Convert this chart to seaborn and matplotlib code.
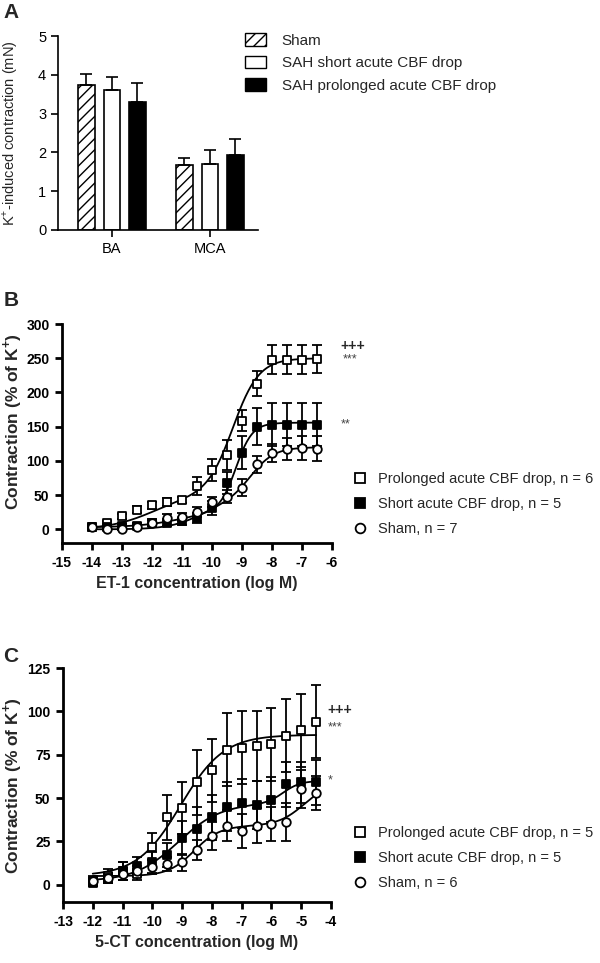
import numpy as np
import pandas as pd
import matplotlib
matplotlib.use("Agg")
import matplotlib.pyplot as plt
import seaborn as sns
from matplotlib.lines import Line2D
from matplotlib.patches import Patch
from matplotlib import font_manager

# ---- panel A: K+ induced contraction (mN)
vessels = ["BA", "MCA"]
groups_a = ["Sham", "SAH short acute CBF drop", "SAH prolonged acute CBF drop"]
sham_k = [3.75, 1.67]
short_k = [3.62, 1.70]
prolonged_k = [3.30, 1.93]
sham_k_sem = [0.28, 0.18]
short_k_sem = [0.32, 0.37]
prolonged_k_sem = [0.50, 0.42]

# ---- panel B: ET-1 concentration response (% of K+)
et1_conc = [-14, -13.5, -13, -12.5, -12, -11.5, -11, -10.5, -10, -9.5, -9, -8.5, -8, -7.5, -7, -6.5]
et1_prolonged = [3, 9, 19, 29, 35, 40, 43, 63, 87, 108, 159, 213, 248, 248, 248, 249]
et1_prolonged_sem = [3, 3, 4, 5, 5, 6, 5, 13, 16, 22, 16, 18, 21, 21, 21, 21]
et1_short = [3, 3, 5, 5, 10, 10, 12, 17, 31, 68, 112, 150, 153, 153, 153, 153]
et1_short_sem = [3, 3, 3, 4, 5, 5, 5, 7, 10, 16, 24, 27, 31, 31, 31, 31]
et1_sham = [3, 1, 1, 3, 10, 17, 18, 25, 40, 48, 61, 95, 112, 118, 119, 118]
et1_sham_sem = [3, 2, 2, 3, 4, 5, 6, 7, 8, 10, 12, 12, 13, 16, 18, 18]
# fitted curve parameters: bottom, span1, logEC50_1, hill1, span2, logEC50_2, hill2
et1_prolonged_fit = [0, 50, -12.0, 0.6, 200, -9.3, 1.0]
et1_short_fit = [3, 25, -11.0, 0.6, 128, -9.2, 1.6]
et1_sham_fit = [0, 40, -10.4, 0.8, 80, -8.7, 1.1]

# ---- panel C: 5-CT concentration response (% of K+)
ct_conc = [-12, -11.5, -11, -10.5, -10, -9.5, -9, -8.5, -8, -7.5, -7, -6.5, -6, -5.5, -5, -4.5]
ct_prolonged = [2, 5, 8, 6, 22, 39, 44, 59, 66, 78, 79, 80, 81, 86, 89, 94]
ct_prolonged_sem = [3, 4, 5, 3, 8, 13, 15, 19, 18, 21, 21, 20, 21, 21, 21, 21]
ct_short = [1, 4, 8, 11, 13, 17, 27, 32, 39, 45, 47, 46, 49, 58, 59, 59]
ct_short_sem = [2, 3, 5, 5, 6, 7, 10, 13, 13, 14, 14, 14, 13, 13, 12, 13]
ct_sham = [2, 4, 6, 8, 10, 12, 13, 20, 28, 34, 31, 34, 35, 36, 55, 53]
ct_sham_sem = [2, 2, 3, 3, 4, 4, 5, 6, 8, 9, 10, 10, 10, 11, 11, 10]
ct_prolonged_fit = [5, 81.5, -9.05, 0.6, 0, -5.0, 1.0]
ct_short_fit = [2, 45, -9.14, 0.6, 13, -5.6, 1.5]
ct_sham_fit = [5, 29, -8.6, 1.0, 25, -4.9, 1.0]

et1_labels = ["Prolonged acute CBF drop, n = 6", "Short acute CBF drop, n = 5", "Sham, n = 7"]
ct_labels = ["Prolonged acute CBF drop, n = 5", "Short acute CBF drop, n = 5", "Sham, n = 6"]

sns.set_theme(style="ticks")
plt.rcParams["font.family"] = ["Liberation Sans", "DejaVu Sans"]
plt.rcParams["mathtext.fontset"] = "custom"
plt.rcParams["mathtext.rm"] = "Liberation Sans"
plt.rcParams["mathtext.bf"] = "Liberation Sans:bold"
plt.rcParams["hatch.linewidth"] = 1.0

installed = {f.name for f in font_manager.fontManager.ttflist}
narrow = "Liberation Sans Narrow" if "Liberation Sans Narrow" in installed else "Liberation Sans"
tick_font = {"family": narrow, "weight": "bold", "size": 12 if narrow != "Liberation Sans" else 10}
xlab_font = {"family": narrow, "weight": "bold", "size": 13 if narrow != "Liberation Sans" else 11.5}


def hill2(x, p):
    b, s1, e1, h1, s2, e2, h2 = p
    return b + s1 / (1 + 10 ** ((e1 - x) * h1)) + s2 / (1 + 10 ** ((e2 - x) * h2))


fig = plt.figure(figsize=(6, 9.63), dpi=100)

# ================= A
axA = fig.add_axes([0.0967, 0.7612, 0.3333, 0.2014])
df_a = pd.DataFrame({
    "vessel": vessels * 3,
    "group": [g for g in groups_a for _ in vessels],
    "value": sham_k + short_k + prolonged_k,
})
sns.barplot(data=df_a, x="vessel", y="value", hue="group", order=vessels, hue_order=groups_a,
            errorbar=None, width=0.78, gap=0.35, palette=["white", "white", "black"],
            legend=False, ax=axA)
face = ["white", "white", "black"]
hatches = ["///", None, None]
sems = [sham_k_sem, short_k_sem, prolonged_k_sem]
for cont, fc, h, sem in zip(axA.containers, face, hatches, sems):
    xs, ys = [], []
    for bar in cont:
        bar.set_facecolor(fc)
        bar.set_edgecolor("black")
        bar.set_linewidth(1.2)
        if h:
            bar.set_hatch(h)
        xs.append(bar.get_x() + bar.get_width() / 2)
        ys.append(bar.get_height())
    axA.errorbar(xs, ys, yerr=[np.zeros(len(sem)), sem], fmt="none", ecolor="black",
                 elinewidth=1.2, capsize=4, capthick=1.2, zorder=3)
axA.set_xlim(-0.55, 1.49)
axA.set_ylim(0, 5)
axA.set_yticks([0, 1, 2, 3, 4, 5])
axA.set_xlabel("")
axA.set_ylabel(r"K$^{+}$-induced contraction (mN)", fontsize=10.5)
axA.yaxis.set_label_coords(-0.19, 0.5)
axA.tick_params(labelsize=10.5, width=1.2, length=5, colors="black")
sns.despine(ax=axA)
for s in ["left", "bottom"]:
    axA.spines[s].set_linewidth(1.2)
    axA.spines[s].set_color("black")
handles_a = [Patch(facecolor="white", edgecolor="black", hatch="///"),
             Patch(facecolor="white", edgecolor="black"),
             Patch(facecolor="black", edgecolor="black")]
fig.legend(handles_a, groups_a, loc="center left", bbox_to_anchor=(245 / 600, 1 - 63 / 963),
           frameon=False, fontsize=11, handlelength=1.4, handleheight=0.9, handletextpad=1.0,
           labelspacing=0.5, borderpad=0, borderaxespad=0)


# ================= B and C
styles = [("s", "white"), ("s", "black"), ("o", "white")]


def dose_panel(ax, conc, means, sems, fits, xticks, yticks, ylim, xlabel):
    conc = np.array(conc, dtype=float)
    grid = np.linspace(conc[0], conc[-1], 300)
    for mean, sem, fit, (mk, fc) in zip(means, sems, fits, styles):
        ax.errorbar(conc, mean, yerr=sem, fmt="none", ecolor="black", elinewidth=1.3,
                    capsize=3.3, capthick=1.3, zorder=2, clip_on=False)
        sns.lineplot(x=grid, y=hill2(grid, fit), color="black", linewidth=1.3, ax=ax, zorder=2.5)
        sns.scatterplot(x=conc, y=mean, marker=mk, s=38, facecolor=fc, edgecolor="black",
                        linewidth=1.3, ax=ax, zorder=3, clip_on=False)
    ax.set_xlim(xticks[0], xticks[-1])
    ax.set_ylim(*ylim)
    ax.set_xticks(xticks)
    ax.set_xticklabels([str(t) for t in xticks], fontdict=tick_font)
    ax.set_yticks(yticks)
    ax.set_yticklabels([str(t) for t in yticks], fontdict=tick_font)
    ax.tick_params(width=2, length=5, pad=4, colors="black")
    sns.despine(ax=ax)
    for s in ["left", "bottom"]:
        ax.spines[s].set_linewidth(2)
        ax.spines[s].set_color("black")
    ax.set_xlabel(xlabel, fontdict=xlab_font, labelpad=5)
    ax.set_ylabel(r"Contraction (% of K$^{\mathbf{+}}$)", fontsize=12.5, fontweight="bold")


def dose_legend(labels, y_center):
    hs = [Line2D([], [], marker=mk, ls="none", mfc=fc, mec="black", ms=7, mew=1.3)
          for mk, fc in styles]
    fig.legend(hs, labels, loc="center left", bbox_to_anchor=(0.588, y_center), frameon=False,
               fontsize=10.5, handlelength=1.0, handletextpad=0.75, labelspacing=0.75,
               borderpad=0, borderaxespad=0)


axB = fig.add_axes([0.1033, 0.4361, 0.45, 0.2274])
dose_panel(axB, et1_conc, [et1_prolonged, et1_short, et1_sham],
           [et1_prolonged_sem, et1_short_sem, et1_sham_sem],
           [et1_prolonged_fit, et1_short_fit, et1_sham_fit],
           list(range(-15, -5)), list(range(0, 301, 50)), (-20, 300),
           "ET-1 concentration (log M)")
axB.yaxis.set_label_coords(-0.14, 0.557)
axB.text(-5.72, 268, "+++", fontsize=10, fontweight="bold", va="center", ha="left")
axB.text(-5.65, 249, "***", fontsize=9, color="#444444", va="center", ha="left")
axB.text(-5.72, 154, "**", fontsize=9, color="#444444", va="center", ha="left")
dose_legend(et1_labels, 1 - 504 / 963)

axC = fig.add_axes([0.105, 0.0633, 0.4467, 0.243])
dose_panel(axC, ct_conc, [ct_prolonged, ct_short, ct_sham],
           [ct_prolonged_sem, ct_short_sem, ct_sham_sem],
           [ct_prolonged_fit, ct_short_fit, ct_sham_fit],
           list(range(-13, -3)), list(range(0, 126, 25)), (-10, 125),
           "5-CT concentration (log M)")
axC.yaxis.set_label_coords(-0.145, 0.5)
axC.text(-4.12, 101, "+++", fontsize=10, fontweight="bold", va="center", ha="left")
axC.text(-4.12, 91, "***", fontsize=9, color="#444444", va="center", ha="left")
axC.text(-4.12, 60, "*", fontsize=9, color="#444444", va="center", ha="left")
dose_legend(ct_labels, 1 - 858 / 963)

for letter, y in [("A", 1 - 13 / 963), ("B", 1 - 301 / 963), ("C", 1 - 657 / 963)]:
    fig.text(0.006, y, letter, fontsize=15, fontweight="bold", va="center", ha="left")

fig.savefig("out.png", dpi=100)
